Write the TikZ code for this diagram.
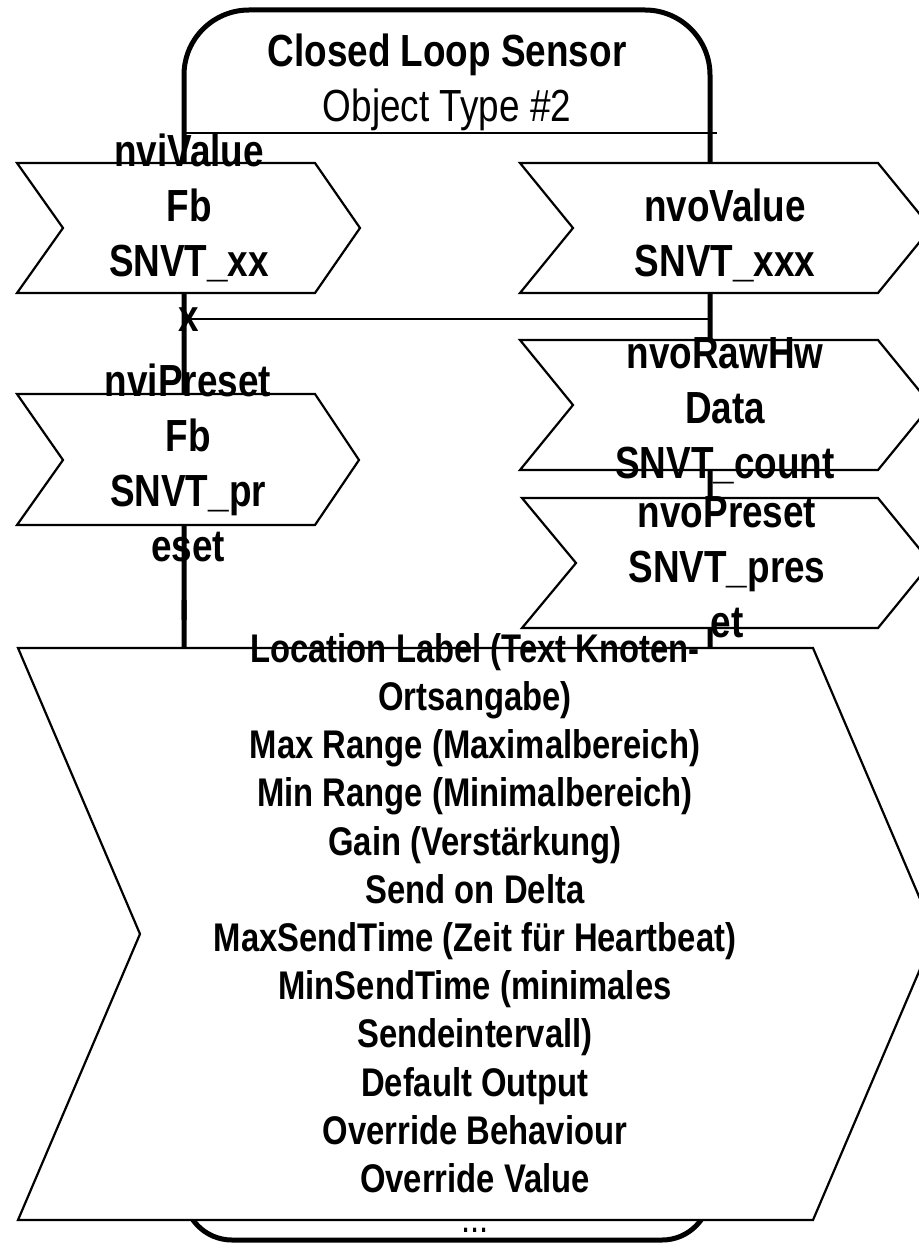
\documentclass[tikz,border=0pt]{standalone}
\usepackage{fontspec}
\setmainfont{Liberation Sans}[FakeStretch=0.82]
\begin{document}
\begin{tikzpicture}[x=1pt,y=-1pt,
  objborder/.style={line width=5pt},
  sepline/.style={line width=2.2pt},
  chev/.style={draw=black, fill=white, line width=2.2pt, line join=miter},
  lbl/.style={anchor=north, inner sep=0pt, align=center,
    font=\fontsize{45}{55}\selectfont\bfseries},
  biglbl/.style={anchor=north, inner sep=0pt, align=center,
    font=\fontsize{40}{48.2}\selectfont\bfseries}]
\useasboundingbox (0,0) rectangle (918,1244);
% object outline
\draw[objborder, rounded corners=65pt] (184,620) -- (184,10) -- (710,10) -- (710,620);
\draw[objborder, rounded corners=48pt] (184,600) -- (184,1240) -- (710,1240) -- (710,600);
\coordinate (s1l) at (184,133); \coordinate (s1r) at (717,133);
\coordinate (s2l) at (184,319); \coordinate (s2r) at (710,319);
\draw[sepline] (s1l) -- (s1r);
\draw[sepline] (s2l) -- (s2r);
% chevrons
\path[chev] (17,163) -- (315,163) -- (360,228) -- (315,293) -- (17,293) -- (63,228) -- cycle;
\path[chev] (520,163) -- (878,163) -- (931,228) -- (878,293) -- (520,293) -- (573,228) -- cycle;
\path[chev] (17,394) -- (315,394) -- (359,460) -- (315,525) -- (17,525) -- (63,460) -- cycle;
\path[chev] (520,340) -- (878,340) -- (931,405) -- (878,470) -- (520,470) -- (573,405) -- cycle;
\path[chev] (522,498) -- (878,498) -- (931,563) -- (878,628) -- (522,628) -- (576,563) -- cycle;
\path[chev] (18,648) -- (813,648) -- (935,934) -- (813,1220) -- (18,1220) -- (140,934) -- cycle;
% texts
\node[lbl, font=\fontsize{45}{55}\selectfont] (title) at (447,33.4)
  {\textbf{Closed Loop Sensor}\\Object Type \#2};
\node[lbl] (nviValue) at (189,133.4) {nviValue\\Fb\\SNVT\_xx\\x};
\node[lbl] (nvoValue) at (725,188.4) {nvoValue\\SNVT\_xxx};
\node[lbl] (nviPreset) at (188,364) {nviPreset\\Fb\\SNVT\_pr\\eset};
\node[lbl] (nvoRaw) at (725,337) {nvoRawHw\\Data\\SNVT\_count};
\node[lbl] (nvoPreset) at (727,496.4) {nvoPreset\\SNVT\_pres\\et};
\node[biglbl] (config) at (475,633.2) {Location Label (Text Knoten-\\Ortsangabe)\\Max Range (Maximalbereich)\\Min Range (Minimalbereich)\\Gain (Verstärkung)\\Send on Delta\\MaxSendTime (Zeit für Heartbeat)\\MinSendTime (minimales\\Sendeintervall)\\Default Output\\Override Behaviour\\Override Value};
\node[anchor=base, inner sep=0pt, font=\fontsize{40}{48}\selectfont] (dots) at (475,1232) {...};
\end{tikzpicture}
\end{document}
